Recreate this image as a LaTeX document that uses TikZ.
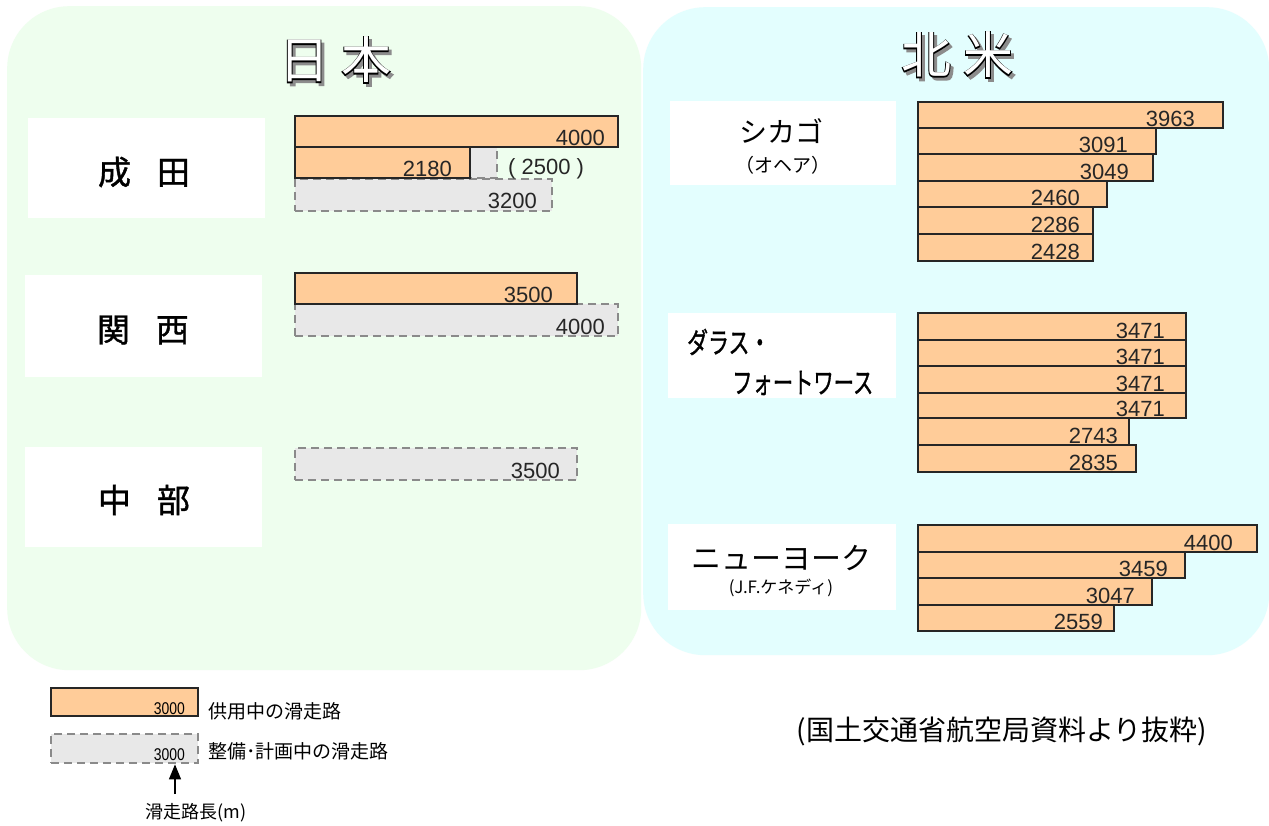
\documentclass[tikz,border=0pt]{standalone}
\usepackage{fontspec}
\setmainfont{Liberation Sans}
\newfontfamily\jp{Noto Sans CJK JP}
\newfontfamily\jpb[FakeBold=1.2]{Noto Sans CJK JP}
\newfontfamily\jpout[FakeBold=3.5]{Noto Sans CJK JP}
\usetikzlibrary{arrows.meta}
\definecolor{jpbg}{HTML}{EEFEEE}
\definecolor{nabg}{HTML}{E3FEFE}
\definecolor{orng}{HTML}{FFCC99}
\definecolor{plan}{HTML}{E8E8E8}
\definecolor{dashc}{HTML}{8A8A8A}
\newcommand\fsz[1]{\fontsize{#1}{#1}\selectfont}
\newcommand\rwbar[6]{\node[#1, anchor=north west, inner sep=0pt, outer sep=0pt, minimum width={(#5-#3)*1pt}, minimum height={(#6-#4)*1pt}] (#2) at (#3,#4) {};}
\newcommand\rwval[4]{\node[val] (#1) at (#2,#3) {#4};}
\tikzset{
  panel/.style={rounded corners=62pt, draw=none, inner sep=0pt, anchor=north west},
  lbox/.style={fill=white, draw=none, inner sep=0pt, anchor=north west},
  obar/.style={fill=orng, draw=black!85, line width=1.8pt},
  pbar/.style={fill=plan, draw=dashc, line width=1.8pt, dash pattern=on 8pt off 5pt},
  val/.style={font=\fsz{22}, anchor=base east, inner sep=0pt, text=black!85},
  ttl/.style={inner sep=0pt, font={\fsz{50}}},
  jlab/.style={inner sep=0pt, font={\fsz{33}\jpb}},
  nlab/.style={inner sep=0pt, font={\jp}},
  lgtxt/.style={inner sep=0pt, anchor=west, font={\fsz{19}\jp}},
  lgval/.style={inner sep=0pt, anchor=base east, font={\fsz{17}}},
}
\begin{document}
\begin{tikzpicture}[x=1pt,y=-1pt]
\useasboundingbox (0,0) rectangle (1269,825);
\fill[white] (0,0) rectangle (1269,825);
% panels
\node[panel, fill=jpbg, minimum width=634pt, minimum height=664pt] (jpp) at (7,6) {};
\node[panel, fill=nabg, minimum width=626pt, minimum height=648pt] (nap) at (643,7) {};
% titles
\node[ttl, text=black!45] (t1s) at (338,63) {\jpout 日\hspace{12pt}本};
\node[ttl, text=black] (t1o) at (335,60) {\jpout 日\hspace{12pt}本};
\node[ttl, text=white] (t1) at (335,60) {\jp 日\hspace{12pt}本};
\node[ttl, text=black!45] (t2s) at (960,58) {\jpout 北\hspace{12pt}米};
\node[ttl, text=black] (t2o) at (957,55) {\jpout 北\hspace{12pt}米};
\node[ttl, text=white] (t2) at (957,55) {\jp 北\hspace{12pt}米};
% label boxes
\node[lbox, minimum width=237pt, minimum height=100pt] (bNarita) at (28,118) {};
\node[lbox, minimum width=237pt, minimum height=102pt] (bKansai) at (25,275) {};
\node[lbox, minimum width=237pt, minimum height=100pt] (bChubu) at (25,447) {};
\node[lbox, minimum width=226pt, minimum height=84pt] (bChi) at (670,101) {};
\node[lbox, minimum width=228pt, minimum height=85pt] (bDal) at (668,313) {};
\node[lbox, minimum width=228pt, minimum height=86pt] (bNY) at (668,524) {};
% label texts
\node[jlab] (lNarita) at (144,172) {成\hspace{26pt}田};
\node[jlab] (lKansai) at (143,330) {関\hspace{26pt}西};
\node[jlab] (lChubu) at (144,500) {中\hspace{26pt}部};
\node[nlab, font={\fsz{28}\jp}] (lChi) at (781,131) {シカゴ};
\node[nlab, font={\fsz{19}\jp}] (lChi2) at (783,165) {（オヘア）};
\node[nlab, anchor=west, font={\fsz{29}\jpb}] (lDal) at (687,342) {\scalebox{0.72}[1]{ダラス・}};
\node[nlab, anchor=west, font={\fsz{29}\jpb}] (lDal2) at (732,383) {\scalebox{0.7}[1]{フォートワース}};
\node[nlab, font={\fsz{30}\jp}] (lNY) at (781,558) {ニューヨーク};
\node[nlab, font={\fsz{17}\jp}] (lNY2) at (781,588) {(J.F.ケネディ)};
% Narita
\rwbar{pbar}{nX}{295}{147}{497}{178}
\rwbar{pbar}{n3}{295}{179}{552}{211}
\rwbar{obar}{n1}{295}{116}{618}{147}
\rwbar{obar}{n2}{295}{147}{470}{178}
\rwval{n1v}{605}{145}{4000}
\rwval{n2v}{452}{176}{2180}
\rwval{n3v}{537}{208}{3200}
\node[val, anchor=base west] (nXv) at (508,174) {( 2500 )};
% Kansai
\rwbar{pbar}{k2}{295}{304}{618}{336}
\rwbar{obar}{k1}{295}{273}{577}{304}
\rwval{k1v}{553}{302}{3500}
\rwval{k2v}{605}{334}{4000}
% Chubu
\rwbar{pbar}{c1}{295}{448}{577}{480}
\rwval{c1v}{560}{478}{3500}
% Chicago
\rwbar{obar}{ch1}{918}{102}{1223}{128}
\rwbar{obar}{ch2}{918}{128}{1156}{154}
\rwbar{obar}{ch3}{918}{154}{1153}{181}
\rwbar{obar}{ch4}{918}{181}{1107}{207}
\rwbar{obar}{ch5}{918}{207}{1093}{234}
\rwbar{obar}{ch6}{918}{234}{1093}{261}
\rwval{ch1v}{1195}{126}{3963}
\rwval{ch2v}{1128}{152}{3091}
\rwval{ch3v}{1129}{179}{3049}
\rwval{ch4v}{1080}{205}{2460}
\rwval{ch5v}{1080}{232}{2286}
\rwval{ch6v}{1080}{259}{2428}
% Dallas
\rwbar{obar}{d1}{918}{313}{1186}{340}
\rwbar{obar}{d2}{918}{340}{1186}{366}
\rwbar{obar}{d3}{918}{366}{1186}{393}
\rwbar{obar}{d4}{918}{393}{1186}{418}
\rwbar{obar}{d5}{918}{418}{1129}{445}
\rwbar{obar}{d6}{918}{445}{1136}{472}
\rwval{d1v}{1165}{338}{3471}
\rwval{d2v}{1165}{364}{3471}
\rwval{d3v}{1165}{391}{3471}
\rwval{d4v}{1165}{416}{3471}
\rwval{d5v}{1118}{443}{2743}
\rwval{d6v}{1118}{470}{2835}
% New York
\rwbar{obar}{ny1}{918}{525}{1257}{552}
\rwbar{obar}{ny2}{918}{552}{1185}{578}
\rwbar{obar}{ny3}{918}{578}{1152}{605}
\rwbar{obar}{ny4}{918}{605}{1114}{631}
\rwval{ny1v}{1233}{550}{4400}
\rwval{ny2v}{1168}{576}{3459}
\rwval{ny3v}{1135}{603}{3047}
\rwval{ny4v}{1103}{629}{2559}
% legend
\rwbar{obar}{lg1}{51}{688}{198}{716}
\rwbar{pbar}{lg2}{51}{734}{198}{763}
\node[lgval] (lgv1) at (185,714) {\scalebox{0.82}[1]{3000}};
\node[lgval] (lgv2) at (185,760) {\scalebox{0.82}[1]{3000}};
\node[lgtxt] (lgt1) at (208,711) {供用中の滑走路};
\node[lgtxt] (lgt2) at (208,751) {整備･計画中の滑走路};
\node[inner sep=0pt, font={\fsz{18}\jp}] (cap) at (196,813) {滑走路長(m)};
\coordinate (atail) at (175,794);
\draw[line width=1.3pt, -{Triangle[length=15pt,width=12pt]}] (atail) -- ([yshift=-4pt]atail |- lgv2.south);
% source
\node[inner sep=0pt, font={\fsz{28}\jp}] (src) at (1002,731) {(国土交通省航空局資料より抜粋)};
\end{tikzpicture}
\end{document}
